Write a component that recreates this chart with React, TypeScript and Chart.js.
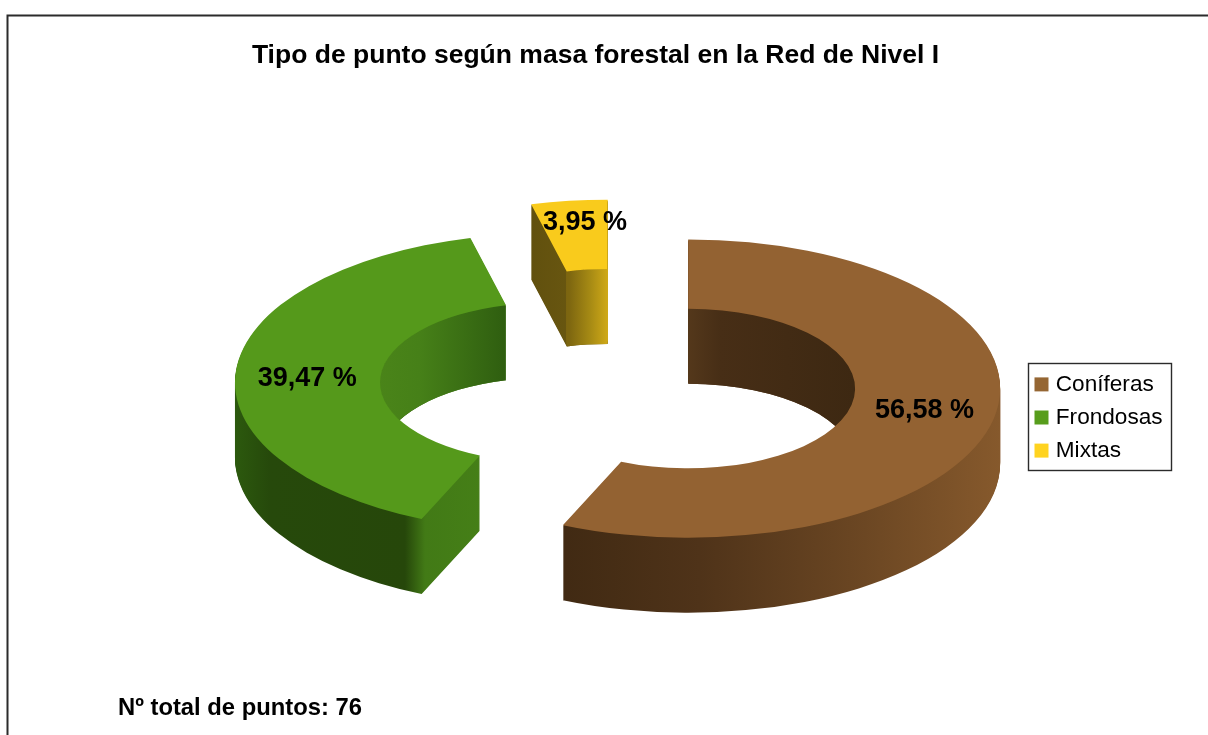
import React, { useEffect, useRef } from "react";
import { Chart, registerables } from "chart.js";

Chart.register(...registerables);

const categories = ["Coníferas", "Frondosas", "Mixtas"];
const pointCounts = [43, 30, 3];
const totalPoints = 76;
const titleText = "Tipo de punto según masa forestal en la Red de Nivel I";
const totalLabel = "Nº total de puntos: " + totalPoints;

const topColors = ["#936232", "#55991b", "#f9cb1c"];
const legendColors = ["#956633", "#579d1c", "#ffd320"];

type Stop = [number, string];
const outerWallStops: Stop[][] = [
  [[566, "#412a13"], [700, "#4f3319"], [850, "#694522"], [1000, "#86592c"]],
  [[235, "#2c590e"], [270, "#26490b"], [405, "#26470a"], [425, "#427a16"], [481, "#457f17"]],
  [[530, "#61500e"], [569, "#685610"]],
];
const innerWallStops: Stop[][] = [
  [[688, "#54381b"], [720, "#472e16"], [855, "#3d2812"]],
  [[378, "#4a8419"], [420, "#468018"], [505, "#2f5e10"]],
  [[569, "#7d6610"], [590, "#a68a14"], [609, "#d2ab18"]],
];
const labelNudges = [[3, -4], [3, 7], [8, -13]];
const sliceShifts = [[1, -2], [4, 2], [1, 0]];

const FONT = "'Liberation Sans', Arial, sans-serif";
const SQUASH = 0.478;
const DEPTH = 75;
const EXPLODE = 73;

const pseudo3d = {
  id: "pseudo3d",
  afterLayout(chart: any) {
    const lg = chart.legend;
    lg.left = 1028; lg.right = 1171; lg.width = 143;
    lg.top = 354; lg.bottom = 481; lg.height = 127;
    const t = chart.titleBlock;
    t.left = 0; t.right = 1191; t.width = 1191;
  },
  beforeDatasetsDraw(chart: any) {
    const ctx: CanvasRenderingContext2D = chart.ctx;
    // frame
    ctx.save();
    ctx.strokeStyle = "#2b2b2b";
    ctx.lineWidth = 2;
    ctx.beginPath();
    ctx.moveTo(7.5, 735);
    ctx.lineTo(7.5, 15.5);
    ctx.lineTo(1208, 15.5);
    ctx.stroke();
    // legend frame
    ctx.lineWidth = 1.4;
    ctx.strokeRect(1028.5, 363.5, 143, 107);
    ctx.restore();

    const arcs = chart.getDatasetMeta(0).data;
    const order = [2, 1, 0];
    for (const i of order) {
      const arc = arcs[i];
      const orig = arc.options;
      const mid = (arc.startAngle + arc.endAngle) / 2;
      const dx = Math.cos(mid) * EXPLODE + sliceShifts[i][0];
      const dy = Math.sin(mid) * EXPLODE + sliceShifts[i][1] / SQUASH;
      const cx = arc.x, cy = arc.y;

      const place = (shift: number) => {
        ctx.translate(0, shift);
        ctx.translate(cx, cy);
        ctx.scale(1, SQUASH);
        ctx.translate(-cx, -cy);
        ctx.translate(dx, dy);
      };
      const grad = (stops: Stop[]) => {
        const x0 = stops[0][0], x1 = stops[stops.length - 1][0];
        const g = ctx.createLinearGradient(x0 - dx, 0, x1 - dx, 0);
        for (const [x, c] of stops) g.addColorStop((x - x0) / (x1 - x0), c);
        return g;
      };
      const stack = (fill: CanvasGradient) => {
        arc.options = { ...orig, backgroundColor: fill, borderWidth: 0 };
        for (let s = DEPTH; s >= 1; s--) {
          ctx.save();
          place(s);
          arc.draw(ctx);
          ctx.restore();
        }
        arc.options = orig;
      };

      // outer wall and cut faces
      stack(grad(outerWallStops[i]));

      // inner wall, restricted to the visible back of the hole
      const sx = cx + dx, sy = cy + dy * SQUASH;
      let xmin = Infinity, xmax = -Infinity;
      for (let k = 0; k <= 200; k++) {
        const a = arc.startAngle + ((arc.endAngle - arc.startAngle) * k) / 200;
        if (Math.sin(a) <= 0.02) {
          const x = sx + Math.cos(a) * arc.innerRadius;
          xmin = Math.min(xmin, x);
          xmax = Math.max(xmax, x);
        }
      }
      ctx.save();
      ctx.beginPath();
      ctx.ellipse(sx, sy, arc.innerRadius, arc.innerRadius * SQUASH, 0, 0, Math.PI * 2);
      ctx.clip();
      ctx.beginPath();
      ctx.rect(xmin, 0, xmax - xmin, chart.height);
      ctx.clip();
      stack(grad(innerWallStops[i]));
      ctx.restore();

      // top face
      ctx.save();
      place(0);
      arc.options = { ...orig, backgroundColor: topColors[i], borderWidth: 0 };
      arc.draw(ctx);
      arc.options = orig;
      ctx.restore();
    }

    // percentage labels
    ctx.save();
    ctx.fillStyle = "#000";
    ctx.font = `bold 27px ${FONT}`;
    ctx.textAlign = "center";
    ctx.textBaseline = "middle";
    arcs.forEach((arc: any, i: number) => {
      const mid = (arc.startAngle + arc.endAngle) / 2;
      const r = (arc.innerRadius + arc.outerRadius) / 2 + EXPLODE;
      const x = arc.x + Math.cos(mid) * r + labelNudges[i][0];
      const y = arc.y + Math.sin(mid) * r * SQUASH + labelNudges[i][1];
      const pct = ((pointCounts[i] / totalPoints) * 100).toFixed(2).replace(".", ",");
      ctx.fillText(`${pct} %`, x, y);
    });
    ctx.textAlign = "left";
    ctx.font = `bold 23.8px ${FONT}`;
    ctx.fillText(totalLabel, 118, 708);
    ctx.restore();
    return false;
  },
};

export default function App() {
  const ref = useRef<HTMLCanvasElement>(null);
  useEffect(() => {
    document.body.style.margin = "0";
    document.body.style.background = "#fff";
    const chart = new Chart(ref.current!, {
      type: "doughnut",
      data: {
        labels: categories,
        datasets: [{ data: pointCounts, backgroundColor: legendColors, borderWidth: 0 }],
      },
      options: {
        responsive: false,
        animation: false,
        radius: 312,
        cutout: "53.5%",
        layout: { padding: { left: 205, right: 37, top: 0, bottom: 50 } },
        plugins: {
          tooltip: { enabled: false },
          title: {
            display: true,
            text: titleText,
            color: "#000",
            font: { family: FONT, size: 26.5, weight: "bold" },
            padding: { top: 40, bottom: 10 },
          },
          legend: {
            position: "right",
            labels: {
              color: "#000",
              font: { family: FONT, size: 22.6, lineHeight: 1.13 },
              boxWidth: 6,
              boxHeight: 6,
              padding: 10.5,
              generateLabels: () =>
                categories.map((text, index) => ({
                  text,
                  index,
                  datasetIndex: 0,
                  fillStyle: legendColors[index],
                  strokeStyle: legendColors[index],
                  lineWidth: 8,
                  hidden: false,
                })),
            },
          },
        },
      },
      plugins: [pseudo3d],
    } as any);
    return () => chart.destroy();
  }, []);
  return (
    <canvas
      ref={ref}
      width={1208}
      height={735}
      style={{ position: "absolute", left: 0, top: 0, display: "block" }}
    />
  );
}
